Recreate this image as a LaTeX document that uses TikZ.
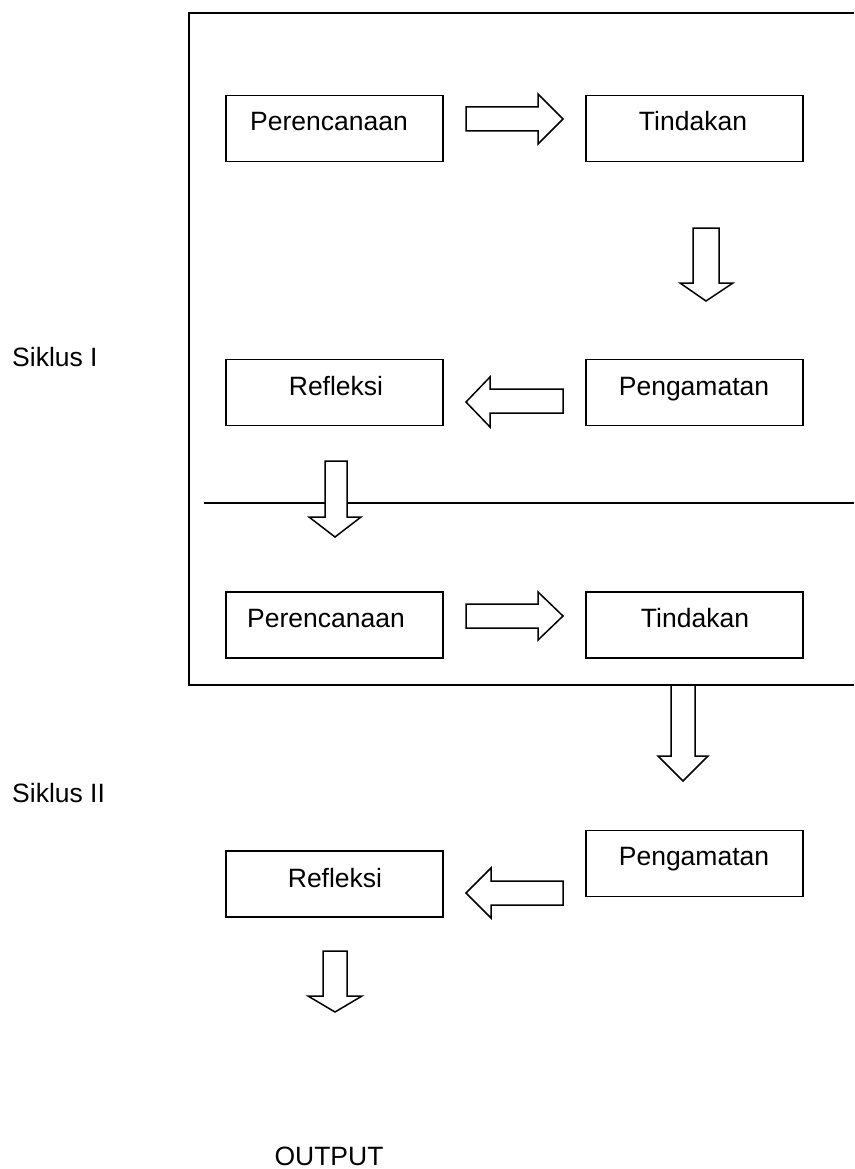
\documentclass[tikz,border=0pt]{standalone}
\usepackage{fontspec}
\setmainfont{Liberation Sans}
\begin{document}
\begin{tikzpicture}[x=1pt,y=-1pt,
  box/.style={draw, line width=1.8pt, minimum width=217pt, minimum height=66pt, inner sep=0pt},
  txt/.style={inner sep=0pt, font=\fontsize{26.5}{30}\selectfont, anchor=base},
  lbl/.style={inner sep=0pt, font=\fontsize{26.5}{30}\selectfont, anchor=base west},
  blockarrow/.style={draw, line width=1.5pt, line join=miter, fill=white},
  frameline/.style={line width=1.8pt}]
\useasboundingbox (0,0) rectangle (854,1169);
\clip (0,0) rectangle (854,1169);
% frame and divider
\draw[frameline] (854,13) -- (189,13) -- (189,685) -- (854,685);
\draw[frameline] (204,503) -- (854,503);
% boxes
\node[box] (p1) at (334.5,128.5) {};
\node[box] (t1) at (694.5,128.5) {};
\node[box] (rf1) at (334.5,392.5) {};
\node[box] (pg1) at (694.5,392.5) {};
\node[box] (p2) at (334.5,625) {};
\node[box] (t2) at (694.5,625) {};
\node[box] (rf2) at (334.5,884) {};
\node[box] (pg2) at (694.5,863.5) {};
% texts
\node[txt] (p1t) at (329,131) {Perencanaan};
\node[txt] (t1t) at (693,131) {Tindakan};
\node[txt] (rf1t) at (336,395) {Refleksi};
\node[txt] (pg1t) at (694,395) {Pengamatan};
\node[txt] (p2t) at (326,627) {Perencanaan};
\node[txt] (t2t) at (695,627) {Tindakan};
\node[txt] (rf2t) at (335,887) {Refleksi};
\node[txt] (pg2t) at (694,865) {Pengamatan};
\node[lbl] (s1) at (12,366) {Siklus I};
\node[lbl] (s2) at (12,802) {Siklus II};
\node[txt] (out) at (329,1165) {OUTPUT};
% block arrows
\draw[blockarrow] (466,107) -- (538,107) -- (538,94) -- (563,119) -- (538,144) -- (538,131) -- (466,131) -- cycle;
\draw[blockarrow] (693,228) -- (719,228) -- (719,283) -- (733,283) -- (706,301) -- (680,283) -- (693,283) -- cycle;
\draw[blockarrow] (563,389) -- (490,389) -- (490,377) -- (466,402) -- (490,427) -- (490,413) -- (563,413) -- cycle;
\draw[blockarrow] (325,461) -- (347,461) -- (347,517) -- (361,517) -- (335,537) -- (309,517) -- (325,517) -- cycle;
\draw[blockarrow] (466,604) -- (538,604) -- (538,592) -- (563,616) -- (538,640) -- (538,628) -- (466,628) -- cycle;
\draw[blockarrow] (671,685) -- (695,685) -- (695,756) -- (708,756) -- (683,781) -- (658,756) -- (671,756) -- cycle;
\draw[blockarrow] (563,881) -- (491,881) -- (491,868) -- (466,893) -- (491,918) -- (491,905) -- (563,905) -- cycle;
\draw[blockarrow] (323,951) -- (347,951) -- (347,996) -- (362,996) -- (335,1012) -- (308,996) -- (323,996) -- cycle;
\end{tikzpicture}
\end{document}
